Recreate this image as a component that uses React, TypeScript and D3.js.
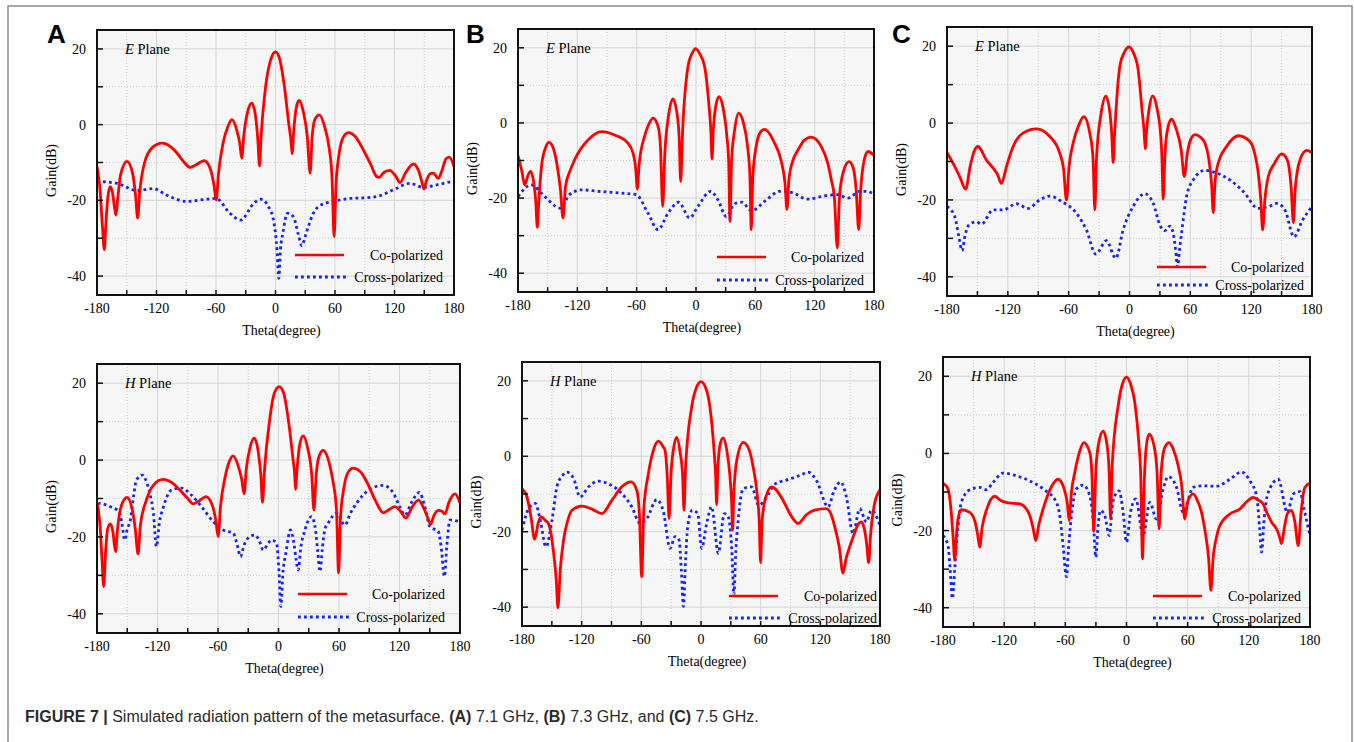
import React from "react";
import * as d3 from "d3";

type Pt = [number, number];

// theta (deg), gain (dB), one array per curve
const coAE: Pt[] = [[-180,-11.1],[-177,-17],[-174.5,-27],[-172.6,-33],[-171,-26],[-169,-19],[-166.6,-16.4],[-164,-18.5],[-162.3,-22],[-160.9,-23.9],[-159.3,-20],[-156,-13],[-149.8,-9.7],[-144,-13],[-141,-19],[-139,-24.7],[-137,-18],[-132,-10],[-124,-6],[-114.5,-4.9],[-105,-6],[-99.4,-7.5],[-92,-10],[-86,-11.3],[-80,-10.6],[-71.9,-9.5],[-66,-11.5],[-62,-16],[-59.8,-19.9],[-57.5,-13],[-53,-5],[-48,-0.5],[-44,1.3],[-39,-1.5],[-36,-5],[-34,-8.9],[-32,-3],[-28,3.5],[-23.9,5.7],[-20,2],[-17.8,-4],[-16.1,-10.9],[-14.5,-3],[-10,10],[-5,17],[0,19.2],[4,17.5],[9,10],[13.5,0],[15.5,-4],[16.8,-7.7],[18.3,-2],[21,4.5],[23.8,6.4],[28,3.5],[32,-3],[34.9,-12.8],[37,-3],[40,1.5],[44.3,2.6],[50,-1],[54,-6],[57,-14],[59.1,-29.6],[61,-16],[64,-8],[68,-3.5],[73.5,-2.1],[80,-3],[88.6,-6.7],[96,-10.5],[102,-13.7],[104.7,-13.9],[109,-12.7],[114.8,-12.1],[121,-13.5],[125.6,-15.3],[131,-12.8],[139,-10.4],[144,-12],[147.5,-15],[149.7,-17],[152,-15],[156,-13],[159.2,-12.8],[164.2,-14.2],[168,-12],[172,-9],[175.3,-8.6],[180,-11.1]];
const crossAE: Pt[] = [[-180,-15],[-160,-15.5],[-140,-17.4],[-123,-16.9],[-110,-18.6],[-89,-20.3],[-76,-19.9],[-60,-19.5],[-46,-23.4],[-35,-25.2],[-22,-20.8],[-15,-19.7],[-7,-21.7],[-1.5,-26],[1.5,-33],[3.3,-40.6],[5,-33],[7.4,-28.7],[12.1,-23.4],[18,-24.3],[23,-29],[26.5,-32],[30,-29.5],[33,-27],[38,-23.5],[43,-21.7],[50,-20.8],[58,-20.3],[75,-19.5],[92,-19.3],[105,-18.8],[119,-17.2],[135.6,-15.5],[149,-16.6],[162.5,-15.9],[180,-14.9]];

const coBE: Pt[] = [[-180,-8.7],[-176,-13],[-173.3,-16.5],[-170,-14],[-167.2,-12.9],[-164,-16],[-162,-21],[-160.5,-27.8],[-159,-21],[-156,-11],[-152,-6.5],[-148.7,-5.2],[-144,-7],[-140,-12],[-137,-18],[-134.5,-25.3],[-132,-17],[-127,-12.5],[-122.7,-9.8],[-109,-4.5],[-95.7,-2.3],[-82.3,-3.2],[-68.8,-5.4],[-63.7,-8],[-61,-12],[-59.3,-17.6],[-57.5,-11],[-52,-3.6],[-48,-0.5],[-43.5,1.3],[-38.4,-0.9],[-36,-6],[-33.7,-22.2],[-31.5,-8],[-28,1.5],[-23.3,6.4],[-19.5,3],[-17,-4],[-15.5,-15.6],[-13.5,-2],[-8.1,15],[-4,18.5],[-0.4,19.8],[4,18.3],[8.7,15],[13,5],[15,-2],[16.2,-9.6],[17.5,-2],[20,4.5],[23.2,7],[27,4.5],[31,-3],[33,-10],[34.4,-26.2],[36,-10],[39,-2],[43.1,2.6],[48,0],[52,-6],[54.5,-14],[55.9,-28.4],[57.5,-14],[61,-6],[65,-2.5],[69.4,-1.7],[79.5,-5.4],[86,-10],[90,-16],[92,-23],[94,-15],[98,-10],[103.1,-7.2],[110,-4.5],[116.6,-3.8],[126.7,-6.3],[133,-10.5],[136.8,-15.1],[140,-20],[142.9,-33.3],[145,-20],[149,-13],[154.7,-10.3],[159,-12],[162,-18],[164.5,-28.4],[166.5,-18],[170,-10],[173.9,-7.6],[180,-8.7]];
const crossBE: Pt[] = [[-180,-19.6],[-166.5,-16.5],[-153,-19.6],[-137,-22.7],[-128,-19.1],[-116,-17.8],[-99,-18.2],[-75.5,-18.7],[-60.4,-19.1],[-48.6,-24],[-38.4,-28.4],[-28.3,-24],[-17.5,-21.1],[-6.4,-25.3],[2,-22.2],[14.8,-18.2],[22.2,-20.5],[30.6,-24.9],[39.1,-21.5],[46.5,-21.1],[55.9,-23.4],[71.1,-20.5],[84.6,-18.2],[96.4,-18.5],[113.2,-20.3],[130.1,-19.4],[143.6,-19.1],[153.7,-20],[165.5,-18.2],[173.2,-18.2],[180,-19.1]];

const coCE: Pt[] = [[-180,-7.7],[-174.1,-10.4],[-167.5,-13.9],[-161.6,-17.2],[-157,-11],[-153,-7.2],[-149.4,-6.1],[-141.2,-9.6],[-134.6,-11.7],[-130,-13.5],[-126.4,-15.7],[-121,-11],[-114.8,-6.1],[-105,-2.6],[-91.8,-1.5],[-78.6,-3.5],[-68.8,-7.8],[-65,-12],[-62.2,-20],[-59.5,-11],[-55.6,-5.2],[-50,-0.5],[-45.1,1.7],[-39.2,-2.6],[-36,-9],[-34.2,-22.6],[-32.5,-9],[-28,2.5],[-23.4,7],[-19.5,3],[-17.5,-3],[-16.1,-10.3],[-14.5,-2],[-9.5,14.8],[-5,18.5],[-0.3,19.8],[4,18.2],[8.5,13.9],[12.5,3],[14.5,-2.5],[15.5,-6.7],[17,-1.5],[19.5,4],[22.7,7.1],[27,4],[31,-4],[32,-9],[33.2,-19.8],[35,-8],[38,-1],[41.5,1],[46,-1.5],[51,-7],[54,-13.9],[57,-8],[60,-4.5],[64.5,-3],[70,-3.7],[74.4,-5.2],[78,-9],[81,-16],[82.6,-23.3],[84.5,-15],[88,-10],[95.7,-6.1],[107.3,-3.3],[118.8,-4.8],[124,-8.5],[127,-13],[129.5,-20],[131.3,-27.8],[133.5,-20],[136.9,-13.9],[143,-10.5],[150,-8],[154,-8.8],[156.6,-10.4],[159.5,-17],[161.6,-25.9],[163.5,-17],[168.1,-9.6],[174.7,-7.1],[180,-7.7]];
const crossCE: Pt[] = [[-180,-21.7],[-172.4,-24.3],[-168,-30],[-165.2,-33.2],[-162,-29],[-158.3,-26.5],[-151,-25.7],[-146,-26.3],[-134.6,-22.6],[-124.7,-22.6],[-111.6,-21],[-100,-22.2],[-88.5,-20],[-78.6,-19],[-67,-20.4],[-52.3,-23.5],[-42.5,-27.8],[-33.2,-34.1],[-22.7,-30.6],[-13.5,-35.2],[-6.3,-27.8],[3.6,-21.7],[15.1,-18.4],[23.4,-20.9],[29.9,-26.5],[34.9,-28],[39.8,-26.8],[43.1,-28.7],[45.5,-33],[47.4,-37.4],[49.3,-33],[51.3,-28.7],[56.3,-19.1],[62.8,-14.8],[74.4,-12.3],[85.9,-13],[99,-14.8],[112.2,-17.8],[127,-22.2],[137.9,-21.7],[145.1,-20.9],[153.3,-22.6],[162.2,-29.6],[170.8,-25.2],[180,-21.7]];

const coAH: Pt[] = [[-180,-11.2],[-177,-17],[-175,-26],[-173.4,-32.9],[-171.5,-24],[-169.5,-18],[-166.8,-16.6],[-164,-19],[-162.8,-22],[-161.5,-23.8],[-160,-19],[-156,-12],[-150.2,-9.7],[-145,-13],[-142,-18],[-139.3,-24.4],[-137,-17],[-131,-10.4],[-124,-6.5],[-114.5,-5],[-105,-6],[-97.9,-7.8],[-90,-10],[-84.7,-11.4],[-78,-10.5],[-72.1,-9.5],[-66,-11.5],[-62,-16],[-59.9,-19.9],[-57.5,-12],[-53,-4.5],[-49,-0.5],[-45,1.1],[-40,-1.5],[-36.5,-5],[-34.1,-8.8],[-32,-2.5],[-28,3.5],[-24.1,5.7],[-20,2],[-17.5,-4],[-15.9,-11],[-14,-3],[-9,10],[-4,17.5],[0.7,19.1],[5,17.5],[10,10],[14.5,0],[16,-3.5],[16.9,-7.6],[18.5,-2],[21,4],[24.5,6.3],[29,3],[33,-4],[35.1,-13],[37.5,-3.5],[40.5,1.2],[44.4,2.5],[50,-0.5],[54,-5.5],[57.5,-13],[59.6,-29.4],[61.5,-15],[65,-7],[69,-3.2],[74.1,-2.1],[81,-3],[87.4,-5.6],[96,-10.5],[103.9,-13.7],[109,-13],[115.5,-12.1],[121,-13.3],[126.4,-15.1],[132,-12.5],[138.7,-10.4],[144,-12.5],[148,-15],[150.9,-16.7],[154,-14.5],[158.5,-13.1],[162,-13.3],[165.1,-14],[169,-11],[175.1,-8.8],[180,-11.2]];
const crossAH: Pt[] = [[-180,-14.7],[-177.4,-11.2],[-167.4,-12.1],[-160,-13],[-157.5,-13.8],[-155,-17],[-152.5,-20.8],[-150,-18],[-146.9,-15.6],[-143.5,-9],[-140.9,-5.2],[-135,-3.9],[-130.5,-6],[-127.7,-8.6],[-124,-14],[-121.1,-22.5],[-118,-16],[-114.5,-12.5],[-106.2,-7.8],[-96.3,-7.3],[-86.4,-9.1],[-76.4,-12.1],[-64.8,-16],[-54.9,-18.2],[-45,-19],[-41,-22],[-37.7,-25.1],[-34,-22],[-30.1,-20.3],[-23.5,-19.5],[-19,-21],[-15.2,-23.4],[-10,-21.5],[-6.9,-20.8],[-2,-21.6],[0.5,-29],[2.3,-38.1],[4.5,-29],[7.3,-24.2],[11.9,-18.2],[15.5,-22],[17.5,-26],[19.5,-28.6],[22,-23],[26.2,-18.2],[32.8,-14.7],[36,-17],[39,-24],[41.1,-29],[43.5,-23],[46,-18],[49.3,-16.4],[57.6,-13.8],[65.9,-16.9],[71,-14],[77.5,-11.2],[90.7,-7.6],[103.9,-6.6],[113.9,-8.6],[120,-12],[125.4,-14.3],[132,-11],[139.7,-8.4],[145,-12],[150.2,-17.3],[158.5,-18.6],[161.5,-23],[164.5,-30.3],[167,-22],[170.1,-15.6],[180,-16]];

const coBH: Pt[] = [[-180,-8.6],[-175,-10.8],[-171,-16],[-167.3,-22],[-163.5,-17.5],[-160.6,-16.1],[-156.5,-17],[-153.2,-18],[-150.5,-21],[-148.2,-25.7],[-145.5,-33],[-143.9,-40.2],[-141.5,-30],[-138.2,-22.2],[-134,-17],[-129.8,-14.3],[-119.8,-13.2],[-109.7,-14],[-99.7,-15.2],[-89.7,-11.7],[-79.6,-8.1],[-70.3,-6.8],[-64.6,-9],[-62,-15],[-59.6,-31.9],[-57.5,-14],[-52.9,-4.6],[-48,1.5],[-42.8,4],[-38,2.5],[-36.1,1.5],[-34,-5],[-32.1,-16.5],[-30,-4],[-27,3],[-24.4,5],[-21,1],[-18.5,-5],[-17.1,-14.3],[-15.5,-3],[-9.4,13],[-4.5,18.3],[0,19.8],[4.5,18.3],[9,13],[13,2],[14.7,-5],[15.7,-12.8],[17,-3],[19.5,3.5],[22.4,4.9],[26,1.5],[29,-5],[30.8,-12],[31.8,-19.6],[33,-10],[36,-1],[42.5,3.7],[48,2],[52.5,-2.9],[56,-9],[58.5,-17],[59.9,-28.2],[61.5,-17],[65,-11],[71,-8.1],[82.6,-11.7],[90,-15.5],[97.7,-17.8],[106,-15.5],[114.4,-14.3],[126.1,-13.9],[131,-15.5],[134.5,-18.7],[139,-24],[142.8,-31],[146,-27],[149.5,-24],[155,-20],[158,-18],[161.3,-17.4],[164,-19],[166.5,-23],[168.6,-28.2],[170.5,-21],[174.6,-12.5],[180,-9]];
const crossBH: Pt[] = [[-180,-19.6],[-173.3,-13.9],[-166.6,-12.5],[-161.6,-17],[-155.9,-24],[-149.9,-17],[-144.9,-8.1],[-139,-5],[-134.8,-4.2],[-128.1,-5.9],[-121.5,-10.8],[-113.1,-8.1],[-103.1,-6.6],[-93,-7.3],[-79.6,-9.9],[-69.6,-13.4],[-61.2,-17.8],[-54.5,-16.5],[-44.5,-11.5],[-37.8,-14.7],[-31.1,-24.4],[-26.1,-21.3],[-22.1,-22.2],[-19.8,-30],[-17.7,-39.8],[-15.6,-28],[-13.4,-18.7],[-8.7,-14.3],[-3.3,-15.2],[0.7,-24.4],[5.7,-17.8],[10.7,-13.4],[17.4,-25.7],[23.4,-15.2],[27.4,-16.1],[31,-25],[33.1,-36.7],[35,-25],[36.8,-18.7],[42.5,-8.6],[50.8,-8.1],[58.2,-13],[65.9,-10.8],[74.3,-7.4],[87.6,-6.2],[100,-5],[107.7,-4.2],[116.1,-6.4],[127.8,-13.4],[134,-9],[140.5,-6.8],[146.2,-10.8],[152.9,-20.5],[159.6,-13.9],[166.3,-17.4],[171.3,-14.3],[180,-18.3]];

const coCH: Pt[] = [[-180,-7.7],[-175.1,-9.2],[-172,-15],[-170,-22],[-168.5,-27.7],[-166.5,-20],[-164,-15.5],[-162,-14.6],[-153.8,-15.3],[-148.9,-17.4],[-146,-21],[-144,-24.3],[-141.5,-19],[-137.5,-14.8],[-129.3,-11.1],[-123,-12.3],[-116.2,-12.8],[-104.7,-13.1],[-98,-14.5],[-94.9,-16.1],[-91.5,-19.5],[-89,-22.6],[-86,-18.5],[-81.8,-14.4],[-72,-7.9],[-67.1,-6.7],[-60.6,-9.7],[-58,-13],[-56.3,-17.4],[-54,-10],[-50.7,-4.9],[-46,0.5],[-41.9,2.8],[-36,0.2],[-34,-5],[-32.1,-20.2],[-30,-4],[-27,3],[-22.9,5.8],[-19,2],[-17,-5],[-15.7,-17],[-14,-3],[-8.2,12.3],[-4,18],[0,19.8],[4,18],[8.2,13.1],[12,3],[14,-6],[15.7,-27.3],[17.5,-7],[19.5,2],[22.2,5],[27,2],[30,-5],[32,-19.6],[34,-5],[37.5,1.5],[41.9,2.8],[46,1],[50.7,-3.2],[54,-8],[57.2,-17],[60,-12.5],[65.4,-10.5],[70,-12.5],[73.6,-15.3],[77,-20],[80.5,-27],[82.8,-35.5],[85,-27],[88,-22],[91.6,-18.7],[101.4,-15.7],[111.2,-14.4],[118,-12.5],[124.3,-11.4],[130,-12.2],[134.1,-13.1],[138,-15.5],[142.3,-17.8],[147.2,-19.6],[150,-21.5],[152.1,-23.4],[155,-19],[158,-15.5],[161.9,-14.8],[165,-17.5],[168.5,-23.9],[171,-16],[175,-8.8],[180,-7.7]];
const crossCH: Pt[] = [[-180,-21.3],[-175.1,-23.9],[-173,-30],[-170.8,-37.6],[-168.5,-30],[-166.3,-22.1],[-162,-12.7],[-153.8,-9.4],[-144,-8.8],[-137.5,-9.4],[-130.9,-7.5],[-121.1,-5.1],[-108,-5.8],[-94.9,-7.1],[-81.8,-9.2],[-68.7,-12.7],[-65,-17],[-62.2,-23.9],[-58.9,-32],[-57,-25],[-55,-18.7],[-49.1,-9.2],[-42.6,-8.2],[-36,-11],[-32.5,-18],[-30.1,-26.9],[-28,-19],[-25.6,-14.8],[-21.3,-16.1],[-17,-21.3],[-13.1,-12.2],[-7.3,-9.7],[-3.3,-15.3],[0,-23],[3.9,-15.3],[9.1,-11.8],[16.3,-21.3],[22.9,-12.7],[29.4,-17],[36,-9.2],[40.9,-6],[49.1,-8.8],[55.6,-15.3],[65.4,-8.8],[75.2,-8.4],[88.3,-8.5],[101.4,-6.7],[112.9,-4.8],[121,-7.1],[127.6,-11],[130.5,-19],[132.5,-25.6],[135,-17],[139,-10.1],[148.9,-6.7],[157.7,-15.3],[163.6,-10.5],[170.2,-9.9],[174.1,-14.4],[180,-21.3]];

const thetaLabels = [-180, -120, -60, 0, 60, 120, 180];
const thetaMinor = [-150, -90, -30, 30, 90, 150];
const gainLabels = [20, 0, -20, -40];
const gainMinor = [10, -10, -30];
const legendNames = ["Co-polarized", "Cross-polarized"];

// layout: plot box [left, top, right, bottom], legend offsets from box right/bottom
const panels = [
  { id: "ae", letter: "A", lx: 47, plane: "E", co: coAE, cross: crossAE, box: [97, 30, 454, 295], leg: [159, 11, 40, 18] },
  { id: "be", letter: "B", lx: 466, plane: "E", co: coBE, cross: crossBE, box: [518, 29, 874, 292], leg: [157, 10, 35, 12] },
  { id: "ce", letter: "C", lx: 892, plane: "E", co: coCE, cross: crossCE, box: [947, 27, 1312, 296], leg: [155, 8, 29, 11] },
  { id: "ah", letter: "", lx: 0, plane: "H", co: coAH, cross: crossAH, box: [97, 364, 460, 633], leg: [162, 15, 39, 16] },
  { id: "bh", letter: "", lx: 0, plane: "H", co: coBH, cross: crossBH, box: [522, 362, 880, 626], leg: [151, 3, 30, 8] },
  { id: "ch", letter: "", lx: 0, plane: "H", co: coCH, cross: crossCH, box: [943, 357, 1310, 627], leg: [157, 9, 31, 9] },
];

const serif = "'Liberation Serif', 'Times New Roman', serif";
const RED = "#ff0000";
const BLUE = "#1424ff";

function Panel({ p }: { p: (typeof panels)[number] }) {
  const [x0, y0, x1, y1] = p.box;
  const x = d3.scaleLinear().domain([-180, 180]).range([x0, x1]);
  const y = d3.scaleLinear().domain([-45, 25]).range([y1, y0]);
  const line = d3
    .line<Pt>()
    .x((d) => x(d[0]))
    .y((d) => y(d[1]))
    .curve(d3.curveMonotoneX);
  const [lineOff, textOff, coOff, crossOff] = p.leg;
  const coY = y1 - coOff;
  const crY = y1 - crossOff;
  const lgX = x1 - lineOff;

  return (
    <g>
      <defs>
        <clipPath id={`clip-${p.id}`}>
          <rect x={x0} y={y0} width={x1 - x0} height={y1 - y0} />
        </clipPath>
      </defs>
      <rect x={x0} y={y0} width={x1 - x0} height={y1 - y0} fill="#f6f6f6" />
      {thetaLabels.map((t) => (
        <line key={"gx" + t} x1={x(t)} x2={x(t)} y1={y0} y2={y1} stroke="#d6d6d6" strokeWidth={1} />
      ))}
      {thetaMinor.map((t) => (
        <line key={"mx" + t} x1={x(t)} x2={x(t)} y1={y0} y2={y1} stroke="#cfcfcf" strokeWidth={1} strokeDasharray="1 2" />
      ))}
      {gainLabels.map((g) => (
        <line key={"gy" + g} x1={x0} x2={x1} y1={y(g)} y2={y(g)} stroke="#d6d6d6" strokeWidth={1} />
      ))}
      {gainMinor.map((g) => (
        <line key={"my" + g} x1={x0} x2={x1} y1={y(g)} y2={y(g)} stroke="#cfcfcf" strokeWidth={1} strokeDasharray="1 2" />
      ))}

      <g clipPath={`url(#clip-${p.id})`}>
        <path d={line(p.cross) || ""} fill="none" stroke={BLUE} strokeWidth={2.8} strokeDasharray="2.8 3.2" />
        <path d={line(p.co) || ""} fill="none" stroke={RED} strokeWidth={2.8} strokeLinejoin="round" />
      </g>

      {/* legend */}
      <line x1={lgX} x2={lgX + 49} y1={coY} y2={coY} stroke={RED} strokeWidth={2.4} />
      <line x1={lgX} x2={lgX + 54} y1={crY} y2={crY} stroke={BLUE} strokeWidth={2.8} strokeDasharray="2.8 3.2" />
      <text x={x1 - textOff} y={coY + 4.5} textAnchor="end" fontFamily={serif} fontSize={14}>
        {legendNames[0]}
      </text>
      <text x={x1 - textOff} y={crY + 4.5} textAnchor="end" fontFamily={serif} fontSize={14}>
        {legendNames[1]}
      </text>

      {/* inward ticks */}
      {[...thetaLabels, ...thetaMinor].map((t) => (
        <line key={"tx" + t} x1={x(t)} x2={x(t)} y1={y1} y2={y1 - 5} stroke="#111" strokeWidth={1.5} />
      ))}
      {[...gainLabels, ...gainMinor].map((g) => (
        <line key={"ty" + g} x1={x0} x2={x0 + 6} y1={y(g)} y2={y(g)} stroke="#111" strokeWidth={1.5} />
      ))}
      <rect x={x0} y={y0} width={x1 - x0} height={y1 - y0} fill="none" stroke="#111" strokeWidth={2} />

      {thetaLabels.map((t) => (
        <text key={"lx" + t} x={x(t)} y={y1 + 18} textAnchor="middle" fontFamily={serif} fontSize={14}>
          {t}
        </text>
      ))}
      {gainLabels.map((g) => (
        <text key={"ly" + g} x={x0 - 11} y={y(g) + 5} textAnchor="end" fontFamily={serif} fontSize={14}>
          {g}
        </text>
      ))}
      <text x={(x0 + x1) / 2 + 6} y={y1 + 40} textAnchor="middle" fontFamily={serif} fontSize={14}>
        Theta(degree)
      </text>
      <text
        transform={`translate(${x0 - 41},${(y0 + y1) / 2 + 8}) rotate(-90)`}
        textAnchor="middle"
        fontFamily={serif}
        fontSize={14}
      >
        Gain(dB)
      </text>
      <text x={x0 + 28} y={y(20) + 5} fontFamily={serif} fontSize={14.5}>
        <tspan fontStyle="italic">{p.plane}</tspan> Plane
      </text>
      {p.letter && (
        <text x={p.lx} y={43} fontFamily="'Liberation Sans', Arial, sans-serif" fontWeight="bold" fontSize={26}>
          {p.letter}
        </text>
      )}
    </g>
  );
}

export default function App() {
  const capFont = "'Liberation Sans Narrow', 'Arial Narrow', 'Liberation Sans', sans-serif";
  return (
    <svg
      width={1354}
      height={742}
      style={{ position: "absolute", left: 0, top: 0, background: "#fff" }}
    >
      <path d="M8,750 V6 H1352 V750" fill="none" stroke="#8c8c8c" strokeWidth={1.5} />
      {panels.map((p) => (
        <Panel key={p.id} p={p} />
      ))}
      <text x={25} y={722} fontFamily={capFont} fontSize={16} fill="#2b2b2b">
        <tspan fontWeight="bold">FIGURE 7 | </tspan>
        <tspan>Simulated radiation pattern of the metasurface. </tspan>
        <tspan fontWeight="bold">(A)</tspan>
        <tspan> 7.1 GHz, </tspan>
        <tspan fontWeight="bold">(B)</tspan>
        <tspan> 7.3 GHz, and </tspan>
        <tspan fontWeight="bold">(C)</tspan>
        <tspan> 7.5 GHz.</tspan>
      </text>
    </svg>
  );
}
